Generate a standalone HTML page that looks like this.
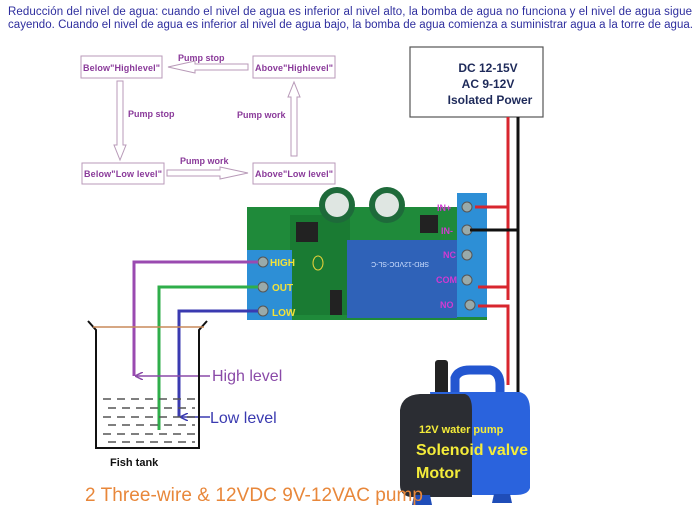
<!DOCTYPE html>
<html><head><meta charset="utf-8"><style>
html,body{margin:0;padding:0;background:#fff;width:699px;height:515px;overflow:hidden}
svg{display:block}
text{font-family:"Liberation Sans",sans-serif}
</style></head><body>
<svg width="699" height="515" viewBox="0 0 699 515" xmlns="http://www.w3.org/2000/svg">
<defs>
<marker id="ap" markerWidth="8" markerHeight="8" refX="7" refY="4" orient="auto" markerUnits="userSpaceOnUse"><path d="M0,0 L8,4 L0,8" fill="none" stroke="#8a4aa8" stroke-width="1.5"/></marker>
<marker id="ab" markerWidth="8" markerHeight="8" refX="7" refY="4" orient="auto" markerUnits="userSpaceOnUse"><path d="M0,0 L8,4 L0,8" fill="none" stroke="#3a3ab0" stroke-width="1.5"/></marker>
</defs>
<text x="8" y="15" font-size="11.5" fill="#2e2e9e" textLength="684">Reducción del nivel de agua: cuando el nivel de agua es inferior al nivel alto, la bomba de agua no funciona y el nivel de agua sigue</text>
<text x="8" y="28" font-size="11.5" fill="#2e2e9e" textLength="685">cayendo. Cuando el nivel de agua es inferior al nivel de agua bajo, la bomba de agua comienza a suministrar agua a la torre de agua.</text>

<g fill="none" stroke="#b89ab8" stroke-width="1">
<rect x="81" y="56" width="81" height="22"/>
<rect x="253" y="56" width="82" height="22"/>
<rect x="82" y="163" width="82" height="21"/>
<rect x="253" y="163" width="82" height="21"/>
<path d="M248,64 H195 V61 L168,67 L195,73 V70 H248 Z"/>
<path d="M117,81 H123 V145 H126 L120,160 L114,145 H117 Z"/>
<path d="M167,170 H220 V167 L248,173 L220,179 V176 H167 Z"/>
<path d="M291,156 H297 V97 H300 L294,82 L288,97 H291 Z"/>
</g>
<g font-size="9" font-weight="bold" fill="#8a3a9a">
<text x="83" y="71" textLength="77">Below"Highlevel"</text>
<text x="255" y="71" textLength="78">Above"Highlevel"</text>
<text x="84" y="177" textLength="78">Below"Low level"</text>
<text x="255" y="177" textLength="78">Above"Low level"</text>
<text x="178" y="61">Pump stop</text>
<text x="128" y="117">Pump stop</text>
<text x="237" y="118">Pump work</text>
<text x="180" y="164">Pump work</text>
</g>

<rect x="410" y="47" width="133" height="70" fill="#fff" stroke="#555" stroke-width="1.2"/>
<g font-size="12" font-weight="bold" fill="#1e2a5a" text-anchor="middle">
<text x="488" y="72">DC 12-15V</text>
<text x="488" y="88">AC 9-12V</text>
<text x="490" y="104">Isolated Power</text>
</g>

<!-- board -->
<rect x="247" y="207" width="240" height="113" fill="#1f8a3a"/>
<rect x="290" y="215" width="60" height="100" fill="#17722e" opacity="0.6"/>
<rect x="247" y="250" width="45" height="70" fill="#2d8fd6"/>
<rect x="457" y="193" width="30" height="124" fill="#2d8fd6"/>
<rect x="347" y="240" width="110" height="78" fill="#2f62b8"/>
<text x="400" y="262" font-size="7" fill="#cfe0ff" text-anchor="middle" transform="rotate(180 400 262)">SRD-12VDC-SL-C</text>
<circle cx="337" cy="205" r="18" fill="#1e6a3a"/><circle cx="337" cy="205" r="12" fill="#dfe6e2"/>
<circle cx="387" cy="205" r="18" fill="#1e6a3a"/><circle cx="387" cy="205" r="12" fill="#dfe6e2"/>
<rect x="296" y="222" width="22" height="20" fill="#222"/>
<rect x="420" y="215" width="18" height="18" fill="#222"/>
<rect x="330" y="290" width="12" height="25" fill="#222"/>
<g fill="#9aa" stroke="#555"><circle cx="263" cy="262" r="5"/><circle cx="263" cy="287" r="5"/><circle cx="263" cy="311" r="5"/>
<circle cx="467" cy="207" r="5"/><circle cx="467" cy="230" r="5"/><circle cx="467" cy="255" r="5"/><circle cx="467" cy="280" r="5"/><circle cx="470" cy="305" r="5"/></g>
<g font-size="10" font-weight="bold" fill="#f2e23a">
<text x="270" y="266">HIGH</text><text x="272" y="291">OUT</text><text x="272" y="316">LOW</text></g>
<ellipse cx="318" cy="263" rx="5" ry="7" fill="none" stroke="#e8d23a"/>
<g font-size="9" font-weight="bold" fill="#d23ad2">
<text x="437" y="211">IN+</text><text x="441" y="234">IN-</text><text x="443" y="258">NC</text><text x="436" y="283">COM</text><text x="440" y="308">NO</text></g>

<!-- wires -->
<g fill="none" stroke-width="3">
<path d="M508,117 V300" stroke="#d8262e"/>
<path d="M475,207 H508 M478,287 H508" stroke="#d8262e"/>
<path d="M478,306 H508 V385" stroke="#d8262e"/>
<path d="M518,117 V400 M470,230 H518" stroke="#111"/>
<path d="M258,262 H134 V376" stroke="#9a4ab0"/>
<path d="M258,287 H159 V430" stroke="#2fae4a"/>
<path d="M258,311 H179 V417" stroke="#3a3ab0"/>
</g>
<path d="M210,376 H136" stroke="#8a4aa8" stroke-width="1.5" marker-end="url(#ap)"/>
<path d="M210,417 H181" stroke="#3a3ab0" stroke-width="1.5" marker-end="url(#ab)"/>
<text x="212" y="381" font-size="16" fill="#8a4aa8">High level</text>
<text x="210" y="423" font-size="16" fill="#3a3ab0">Low level</text>

<!-- tank -->
<path d="M88,321 L96,330 V448 H199 V330 L207,321" fill="none" stroke="#111" stroke-width="2"/>
<path d="M93,327 H204" stroke="#c88a5a" stroke-width="1.5"/>
<g stroke="#555" stroke-width="1.5" stroke-dasharray="8,6">
<path d="M103,399 H195"/><path d="M108,408 H195"/><path d="M103,417 H195"/><path d="M108,425 H195"/><path d="M103,434 H195"/><path d="M108,442 H195"/></g>
<text x="110" y="466" font-size="11" font-weight="bold" fill="#111">Fish tank</text>

<!-- pump -->
<rect x="435" y="360" width="13" height="35" rx="3" fill="#222"/>
<path d="M455,395 V378 Q458,370 470,370 H490 Q500,372 500,385 V395" fill="none" stroke="#2356d0" stroke-width="9"/>
<path d="M430,392 H520 Q530,395 530,410 V488 Q528,495 515,495 H440 Z" fill="#2a63dd"/>
<path d="M400,410 Q402,395 420,394 H465 Q472,396 472,410 V497 H410 Q400,495 400,485 Z" fill="#2b2d33"/>
<path d="M412,505 H432 L430,495 H414 Z M492,503 H512 L510,494 H494 Z" fill="#1f4db8"/>
<text x="419" y="433" font-size="11" font-weight="bold" fill="#f4ec3a">12V water pump</text>
<text x="416" y="455" font-size="16" font-weight="bold" fill="#f4ec3a">Solenoid valve</text>
<text x="416" y="478" font-size="16" font-weight="bold" fill="#f4ec3a">Motor</text>
<text x="85" y="501" font-size="19" fill="#e8873a" textLength="338">2 Three-wire &amp; 12VDC 9V-12VAC pump</text>
</svg>
</body></html>
